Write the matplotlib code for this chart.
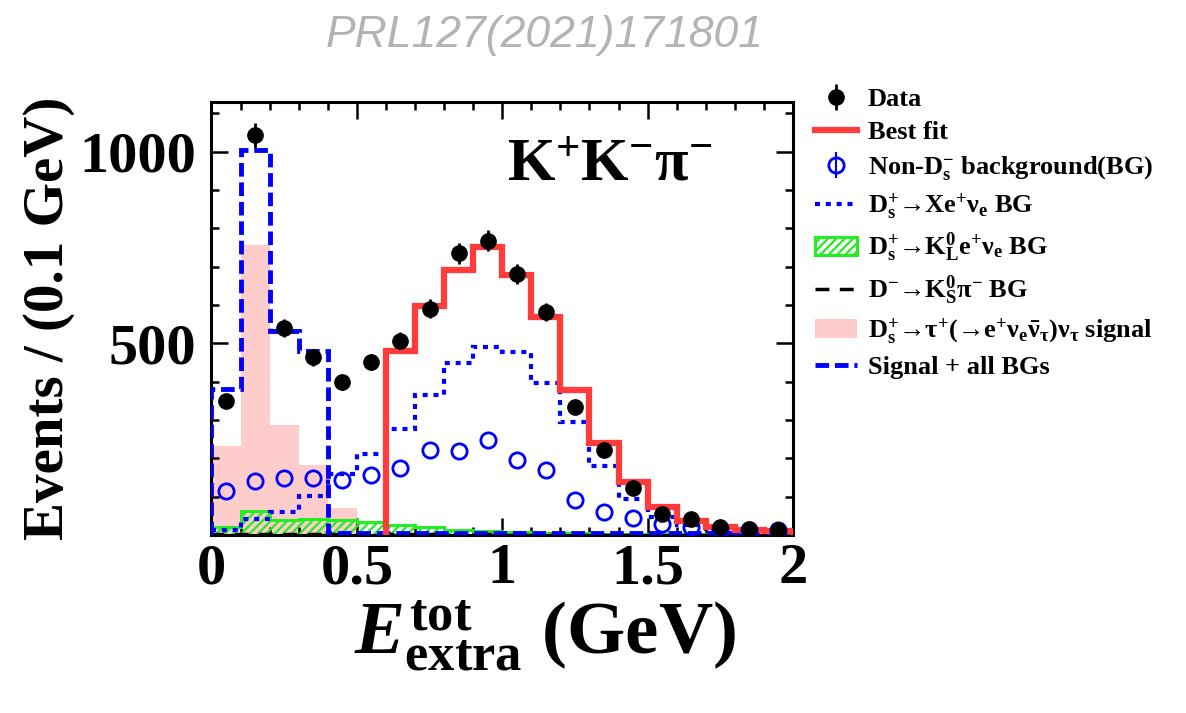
import numpy as np
import matplotlib
matplotlib.use("Agg")
import matplotlib.pyplot as plt
from matplotlib.ticker import MultipleLocator

plt.rcParams['font.family'] = ['Liberation Serif', 'DejaVu Serif']
plt.rcParams['font.weight'] = 'bold'
plt.rcParams['axes.labelweight'] = 'bold'
plt.rcParams['mathtext.fontset'] = 'custom'
plt.rcParams['mathtext.rm'] = 'Liberation Serif:bold'
plt.rcParams['mathtext.it'] = 'Liberation Serif:italic:bold'
plt.rcParams['mathtext.bf'] = 'Liberation Serif:bold'
plt.rcParams['hatch.linewidth'] = 1.6

# E_extra bins (GeV), 0.1 GeV wide
edges = [0.0, 0.1, 0.2, 0.3, 0.4, 0.5, 0.6, 0.7, 0.8, 0.9, 1.0,
         1.1, 1.2, 1.3, 1.4, 1.5, 1.6, 1.7, 1.8, 1.9, 2.0]
centers = [0.05, 0.15, 0.25, 0.35, 0.45, 0.55, 0.65, 0.75, 0.85, 0.95,
           1.05, 1.15, 1.25, 1.35, 1.45, 1.55, 1.65, 1.75, 1.85, 1.95]

# events per bin
data = [350, 1042, 540, 463, 398, 452, 507, 590, 735, 768,
        681, 581, 335, 222, 122, 55, 42, 20, 15, 13]
fit_edges = [0.6, 0.7, 0.8, 0.9, 1.0, 1.1, 1.2, 1.3, 1.4, 1.5,
             1.6, 1.7, 1.8, 1.9, 2.0]
best_fit = [481, 598, 692, 750, 678, 568, 377, 239, 137, 74, 37, 20, 14, 11]
non_ds = [114, 142, 149, 150, 143, 157, 176, 222, 218, 248,
          196, 170, 91, 59, 44, 29, 20, 16, 14, 14]
xenu_bg = [14, 42, 59, 102, 160, 210, 276, 366, 448, 490,
           478, 396, 294, 181, 94, 46, 25, 15, 10, 8]
kl_bg = [20, 63, 40, 42, 39, 33, 27, 20, 14, 10,
         8, 6, 5, 4, 3, 2, 2, 1, 1, 1]
dks_bg = [2, 3, 3, 3, 3, 2, 2, 2, 2, 2,
          1, 1, 1, 1, 1, 1, 1, 1, 1, 1]
signal = [233, 757, 288, 183, 70, 0, 0, 0, 0, 0,
          0, 0, 0, 0, 0, 0, 0, 0, 0, 0]
sig_all = [382, 1004, 533, 481, 6, 6, 6, 6, 6, 6,
           6, 6, 6, 6, 6, 6, 6, 6, 6, 6]

fig = plt.figure(figsize=(11.86, 7.13), dpi=100)
ax = fig.add_axes([0.1783, 0.2496, 0.4903, 0.6078])

h_sig = ax.stairs(signal, edges, fill=True, color='#ffcccc', lw=0, zorder=1)
h_kl = ax.stairs(kl_bg, edges, fill=True, facecolor='none', edgecolor='#22ee22',
                 hatch='////', lw=2.2, zorder=2)
h_dks = ax.stairs(dks_bg, edges, color='k', ls=(0, (4, 3)), lw=2.5, zorder=3)
h_xenu = ax.stairs(xenu_bg, edges, color='#0000ff', ls=(0, (1.2, 1.4)), lw=3,
                   baseline=None, zorder=4)
h_all = ax.stairs(sig_all, edges, color='#0000ff', ls=(0, (2.8, 1.2)), lw=3.5,
                  zorder=5)
h_fit = ax.stairs(best_fit, fit_edges, color='#ff3b3b', lw=4.5, zorder=6)
h_nonds = ax.errorbar(centers, non_ds, yerr=np.zeros(len(non_ds)), fmt='o',
                      mfc='none', mec='#0000ff', mew=2, ms=11, ecolor='#0000ff',
                      elinewidth=1.5, capsize=0, zorder=7)
h_data = ax.errorbar(centers, data, yerr=np.sqrt(data), fmt='o', color='k',
                     ms=11, elinewidth=2, capsize=0, zorder=8)

ax.set_xlim(0, 2)
ax.set_ylim(0, 1130)
ax.set_xticks([0, 0.5, 1, 1.5, 2], ['0', '0.5', '1', '1.5', '2'])
ax.set_yticks([500, 1000], ['500', '1000'])
ax.xaxis.set_minor_locator(MultipleLocator(0.1))
ax.yaxis.set_minor_locator(MultipleLocator(100))
ax.tick_params(which='both', direction='in', top=True, right=True, width=1.8,
               labelsize=42)
ax.tick_params(which='major', length=12)
ax.tick_params(which='minor', length=6)
ax.tick_params(axis='y', pad=11)
ax.tick_params(axis='x', pad=6)
for sp in ax.spines.values():
    sp.set_linewidth(2.2)

ax.set_ylabel('Events / (0.1 GeV)', fontsize=41)
ax.yaxis.set_label_coords(-0.235, 0.5)
ax.set_xlabel(r'$\mathit{E}^{\mathrm{tot}}_{\mathrm{extra}}$ (GeV)', fontsize=54)
ax.xaxis.set_label_coords(0.573, -0.145)

ax.text(1.37, 964, r'$\mathrm{K^{+}K^{-}\pi^{-}}$', fontsize=44,
        ha='center', va='center')

fig.text(545 / 1186, 1 - 35 / 713, 'PRL127(2021)171801', ha='center',
         va='center', color='#b3b3b3', style='italic', weight='normal',
         family='Liberation Sans', fontsize=32)

handles = [h_data, h_fit, h_nonds, h_xenu, h_kl, h_dks, h_sig, h_all]
labels = [
    'Data',
    'Best fit',
    r'Non-D$_{\mathrm{s}}^{\mathrm{-}}$ background(BG)',
    r'D$_{\mathrm{s}}^{+}$→Xe$^{+}\mathrm{\nu}_{\mathrm{e}}$ BG',
    r'D$_{\mathrm{s}}^{+}$→K$_{\mathrm{L}}^{0}$e$^{+}\mathrm{\nu}_{\mathrm{e}}$ BG',
    r'D$^{-}$→K$_{\mathrm{S}}^{0}\mathrm{\pi}^{-}$ BG',
    r'D$_{\mathrm{s}}^{+}$→$\mathrm{\tau}^{+}$(→e$^{+}\mathrm{\nu}_{\mathrm{e}}\bar{\mathrm{\nu}}_{\mathrm{\tau}}$)$\mathrm{\nu}_{\mathrm{\tau}}$ signal',
    'Signal + all BGs',
]
fig.legend(handles, labels, loc='upper left',
           bbox_to_anchor=(815 / 1186, 1 - 88 / 713), frameon=False,
           borderpad=0, borderaxespad=0, handlelength=1.6, handletextpad=0.4,
           labelspacing=0.36, prop={'family': 'Liberation Serif',
                                     'weight': 'bold', 'size': 19})

fig.savefig('out.png', dpi=100)
